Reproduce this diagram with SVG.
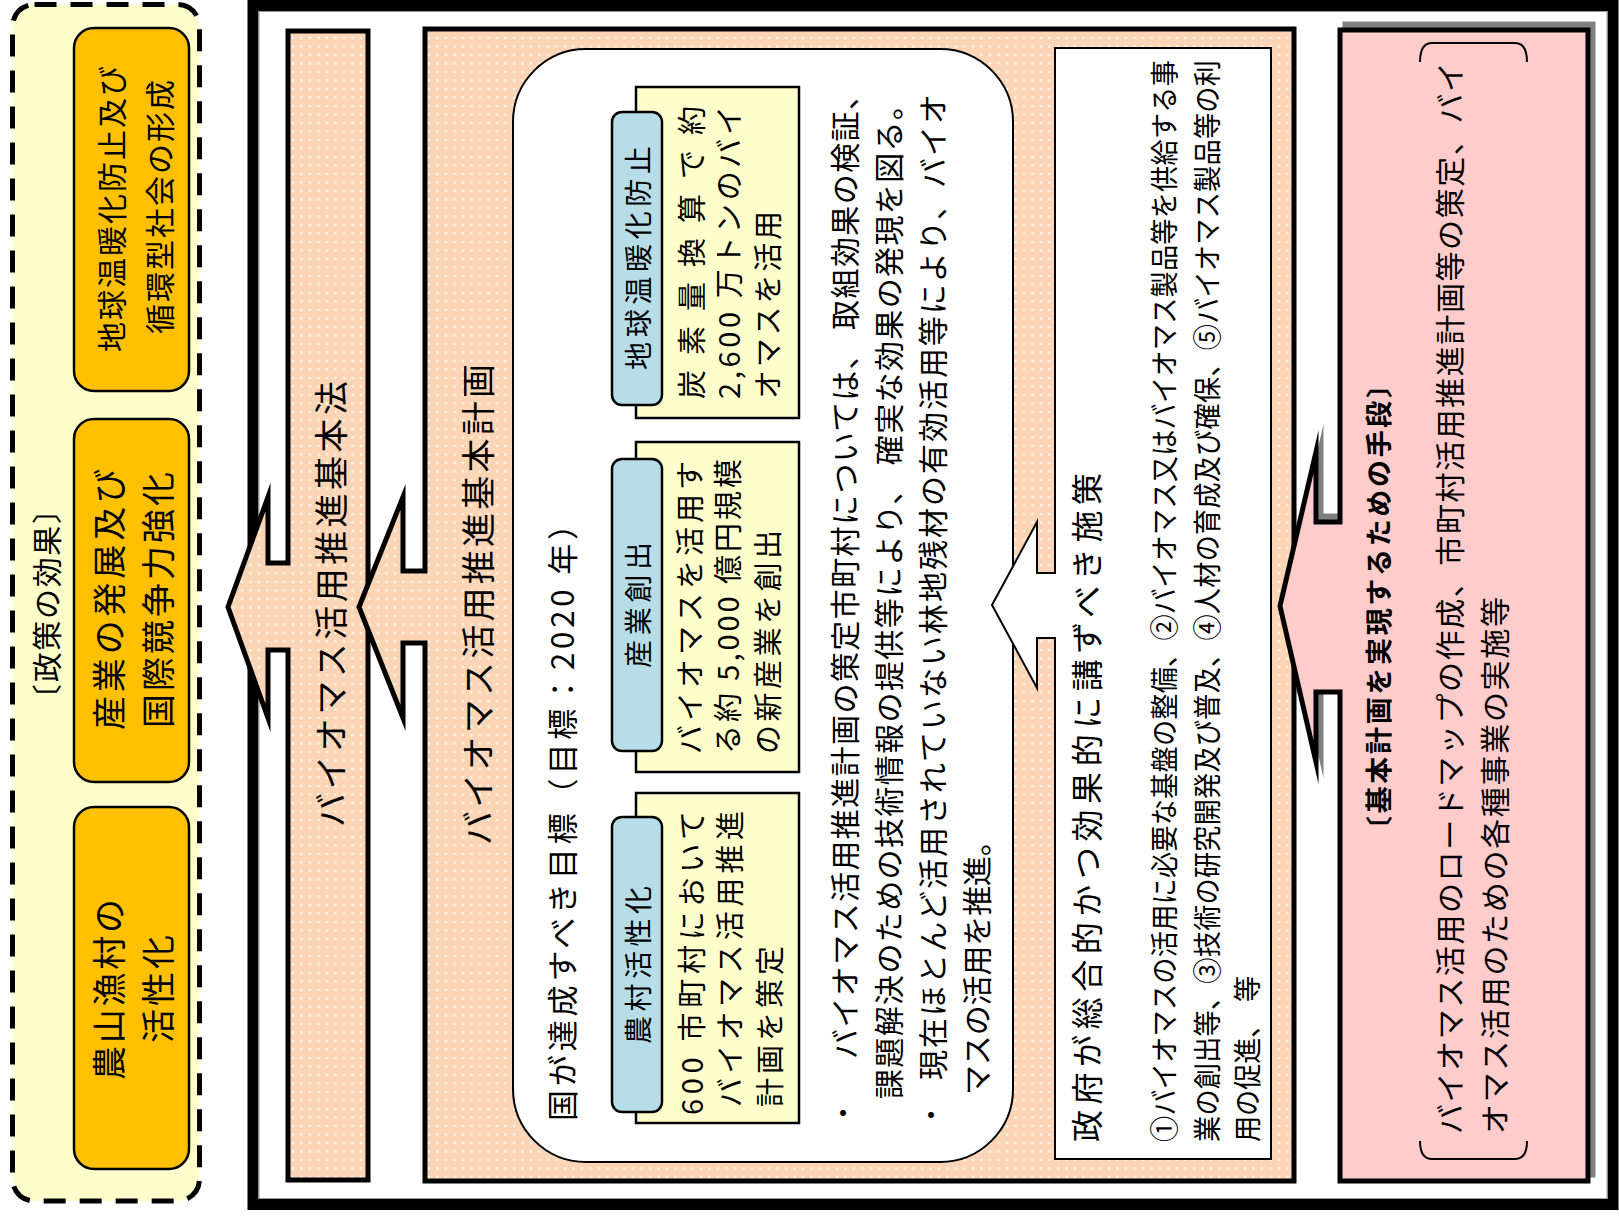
<svg xmlns="http://www.w3.org/2000/svg" width="1619" height="1224" viewBox="0 0 1619 1224">
<defs>
<pattern id="dots" width="8.5" height="8.5" patternUnits="userSpaceOnUse">
<rect width="8.5" height="8.5" fill="#FBD5B5"/>
<rect x="3" y="3" width="2" height="2" fill="#ffffff"/>
</pattern>
<style>
.t{font-family:"Noto Sans CJK JP","Noto Sans",sans-serif;fill:#000;dominant-baseline:central}
.b{font-weight:bold}
.org{fill:#FFC000;stroke:#000;stroke-width:2.5}
.ybox{fill:#FFFFCC;stroke:#000;stroke-width:2.5}
.blue{fill:#B7DDE8;stroke:#000;stroke-width:2.5}
.peach{fill:url(#dots);stroke:#000;stroke-width:5;stroke-miterlimit:10}
</style>
</defs>
<rect width="1619" height="1224" fill="#ffffff"/>

<g id="policy-effects">
<rect x="12.5" y="4.5" width="187" height="1196.5" rx="22" fill="#FFFFCC" stroke="#000" stroke-width="5" stroke-dasharray="22 14"/>
<text class="t" font-size="30" transform="translate(45,714) rotate(-90)" textLength="220">〔政策の効果〕</text>
</g>

<g id="effect-warming">
<rect class="org" x="74" y="28" width="115" height="363" rx="20"/>
<text class="t" font-size="30" transform="translate(110,352) rotate(-90)" textLength="286">地球温暖化防止及び</text>
<text class="t" font-size="30" transform="translate(158,334) rotate(-90)" textLength="254">循環型社会の形成</text>
</g>

<g id="effect-industry">
<rect class="org" x="74" y="419" width="115" height="363" rx="20"/>
<text class="t" font-size="34" transform="translate(107,730) rotate(-90)" textLength="261">産業の発展及び</text>
<text class="t" font-size="34" transform="translate(156,728) rotate(-90)" textLength="256">国際競争力強化</text>
</g>

<g id="effect-rural">
<rect class="org" x="74" y="807" width="115" height="362" rx="20"/>
<text class="t" font-size="34" transform="translate(107,1080) rotate(-90)" textLength="181">農山漁村の</text>
<text class="t" font-size="34" transform="translate(156,1043) rotate(-90)" textLength="108">活性化</text>
</g>

<g id="frame">
<rect x="253" y="5.5" width="1360" height="1199" fill="none" stroke="#000" stroke-width="11"/>
<rect x="259" y="11.5" width="1348" height="1187" fill="none" stroke="#999" stroke-width="1"/>
</g>

<g id="basic-law">
<path class="peach" d="M288,31 H368 V1180 H288 V650 H268 V718 L228,607 L268,497 V563 H288 Z"/>
<text class="t" font-size="34" transform="translate(329,827) rotate(-90)" textLength="446">バイオマス活用推進基本法</text>
</g>

<g id="basic-plan">
<path class="peach" d="M425,29 H1294 V1181 H425 V643 H403 V718 L359,607 L403,497 V571 H425 Z"/>
<text class="t" font-size="34" transform="translate(476,845) rotate(-90)" textLength="481">バイオマス活用推進基本計画</text>
</g>

<g id="national-targets">
<rect x="513" y="49" width="500" height="1113" rx="73" fill="#ffffff" stroke="#000" stroke-width="2"/>
<text class="t" font-size="31" transform="translate(560,1121) rotate(-90)" textLength="612">国が達成すべき目標（目標：2020 年）</text>
<text class="t" font-size="28" text-anchor="middle" x="843" y="1112">・</text>
<text class="t" font-size="30" transform="translate(843,1059) rotate(-90)" textLength="979">バイオマス活用推進計画の策定市町村については、 取組効果の検証、</text>
<text class="t" font-size="30" transform="translate(887,1099) rotate(-90)" textLength="1009">課題解決のための技術情報の提供等により、 確実な効果の発現を図る。</text>
<text class="t" font-size="28" text-anchor="middle" x="931" y="1114">・</text>
<text class="t" font-size="30" transform="translate(931,1080) rotate(-90)" textLength="986">現在ほとんど活用されていない林地残材の有効活用等により、バイオ</text>
<text class="t" font-size="30" transform="translate(975,1095) rotate(-90)" textLength="269">マスの活用を推進。</text>
</g>

<g id="target-rural">
<rect class="ybox" x="636" y="793" width="163" height="330"/>
<rect class="blue" x="612" y="817" width="50" height="295" rx="10"/>
<text class="t" font-size="28" transform="translate(637,1044) rotate(-90)" textLength="158">農村活性化</text>
<text class="t" font-size="29" transform="translate(690,1115) rotate(-90)" textLength="304">600 市町村において</text>
<text class="t" font-size="29" transform="translate(728,1107) rotate(-90)" textLength="296">バイオマス活用推進</text>
<text class="t" font-size="29" transform="translate(768,1107) rotate(-90)" textLength="161">計画を策定</text>
</g>

<g id="target-industry">
<rect class="ybox" x="636" y="442" width="163" height="330"/>
<rect class="blue" x="612" y="459" width="50" height="292" rx="10"/>
<text class="t" font-size="28" transform="translate(637,668) rotate(-90)" textLength="126">産業創出</text>
<text class="t" font-size="29" transform="translate(688,754) rotate(-90)" textLength="293">バイオマスを活用す</text>
<text class="t" font-size="29" transform="translate(726,754) rotate(-90)" textLength="295">る約 5,000 億円規模</text>
<text class="t" font-size="29" transform="translate(766,754) rotate(-90)" textLength="224">の新産業を創出</text>
</g>

<g id="target-warming">
<rect class="ybox" x="636" y="87" width="163" height="331"/>
<rect class="blue" x="612" y="112" width="50" height="293" rx="10"/>
<text class="t" font-size="28" transform="translate(637,370) rotate(-90)" textLength="224">地球温暖化防止</text>
<text class="t" font-size="29" transform="translate(690,399) rotate(-90)" textLength="293">炭素量換算で約</text>
<text class="t" font-size="29" transform="translate(727,399) rotate(-90)" textLength="293">2,600 万トンのバイ</text>
<text class="t" font-size="29" transform="translate(766,399) rotate(-90)" textLength="188">オマスを活用</text>
</g>

<g id="government-measures">
<path d="M1055,48 H1271 V1159 H1055 V638 H1037 V688 L992,605 L1037,522 V573 H1055 Z" fill="#ffffff" stroke="#000" stroke-width="2" stroke-miterlimit="10"/>
<text class="t" font-size="32" transform="translate(1085,1142) rotate(-90)" textLength="669">政府が総合的かつ効果的に講ずべき施策</text>
<text class="t" font-size="29" transform="translate(1162,1142) rotate(-90) scale(0.9,1)" textLength="1202">①バイオマスの活用に必要な基盤の整備、②バイオマス又はバイオマス製品等を供給する事</text>
<text class="t" font-size="29" transform="translate(1205,1142) rotate(-90) scale(0.9,1)" textLength="1202">業の創出等、③技術の研究開発及び普及、④人材の育成及び確保、⑤バイオマス製品等の利</text>
<text class="t" font-size="29" transform="translate(1245,1142) rotate(-90) scale(0.9,1)">用の促進、</text>
<text class="t" font-size="29" transform="translate(1245,1002) rotate(-90) scale(0.9,1)">等</text>
</g>

<g id="means">
<path d="M1340,30 H1588 V1181 H1340 V692 H1316 V762 L1280,606 L1316,452 V522 H1340 Z" transform="translate(5,-6)" fill="#808080" stroke="#808080" stroke-width="5" stroke-miterlimit="10"/>
<path d="M1340,30 H1588 V1181 H1340 V692 H1316 V762 L1280,606 L1316,452 V522 H1340 Z" fill="#FFCCCC" stroke="#000" stroke-width="5" stroke-miterlimit="10"/>
<text class="t b" font-size="27" transform="translate(1377,843) rotate(-90)" textLength="472">〔基本計画を実現するための手段〕</text>
<path d="M1420,62 Q1420,43 1432,43 H1515 Q1527,43 1527,62" fill="none" stroke="#000" stroke-width="2"/>
<path d="M1420,1141 Q1420,1159 1432,1159 H1515 Q1527,1159 1527,1141" fill="none" stroke="#000" stroke-width="2"/>
<text class="t" font-size="30" transform="translate(1448,1134) rotate(-90)" textLength="1072">バイオマス活用のロードマップの作成、市町村活用推進計画等の策定、バイ</text>
<text class="t" font-size="30" transform="translate(1493,1134) rotate(-90)" textLength="537">オマス活用のための各種事業の実施等</text>
</g>
</svg>
